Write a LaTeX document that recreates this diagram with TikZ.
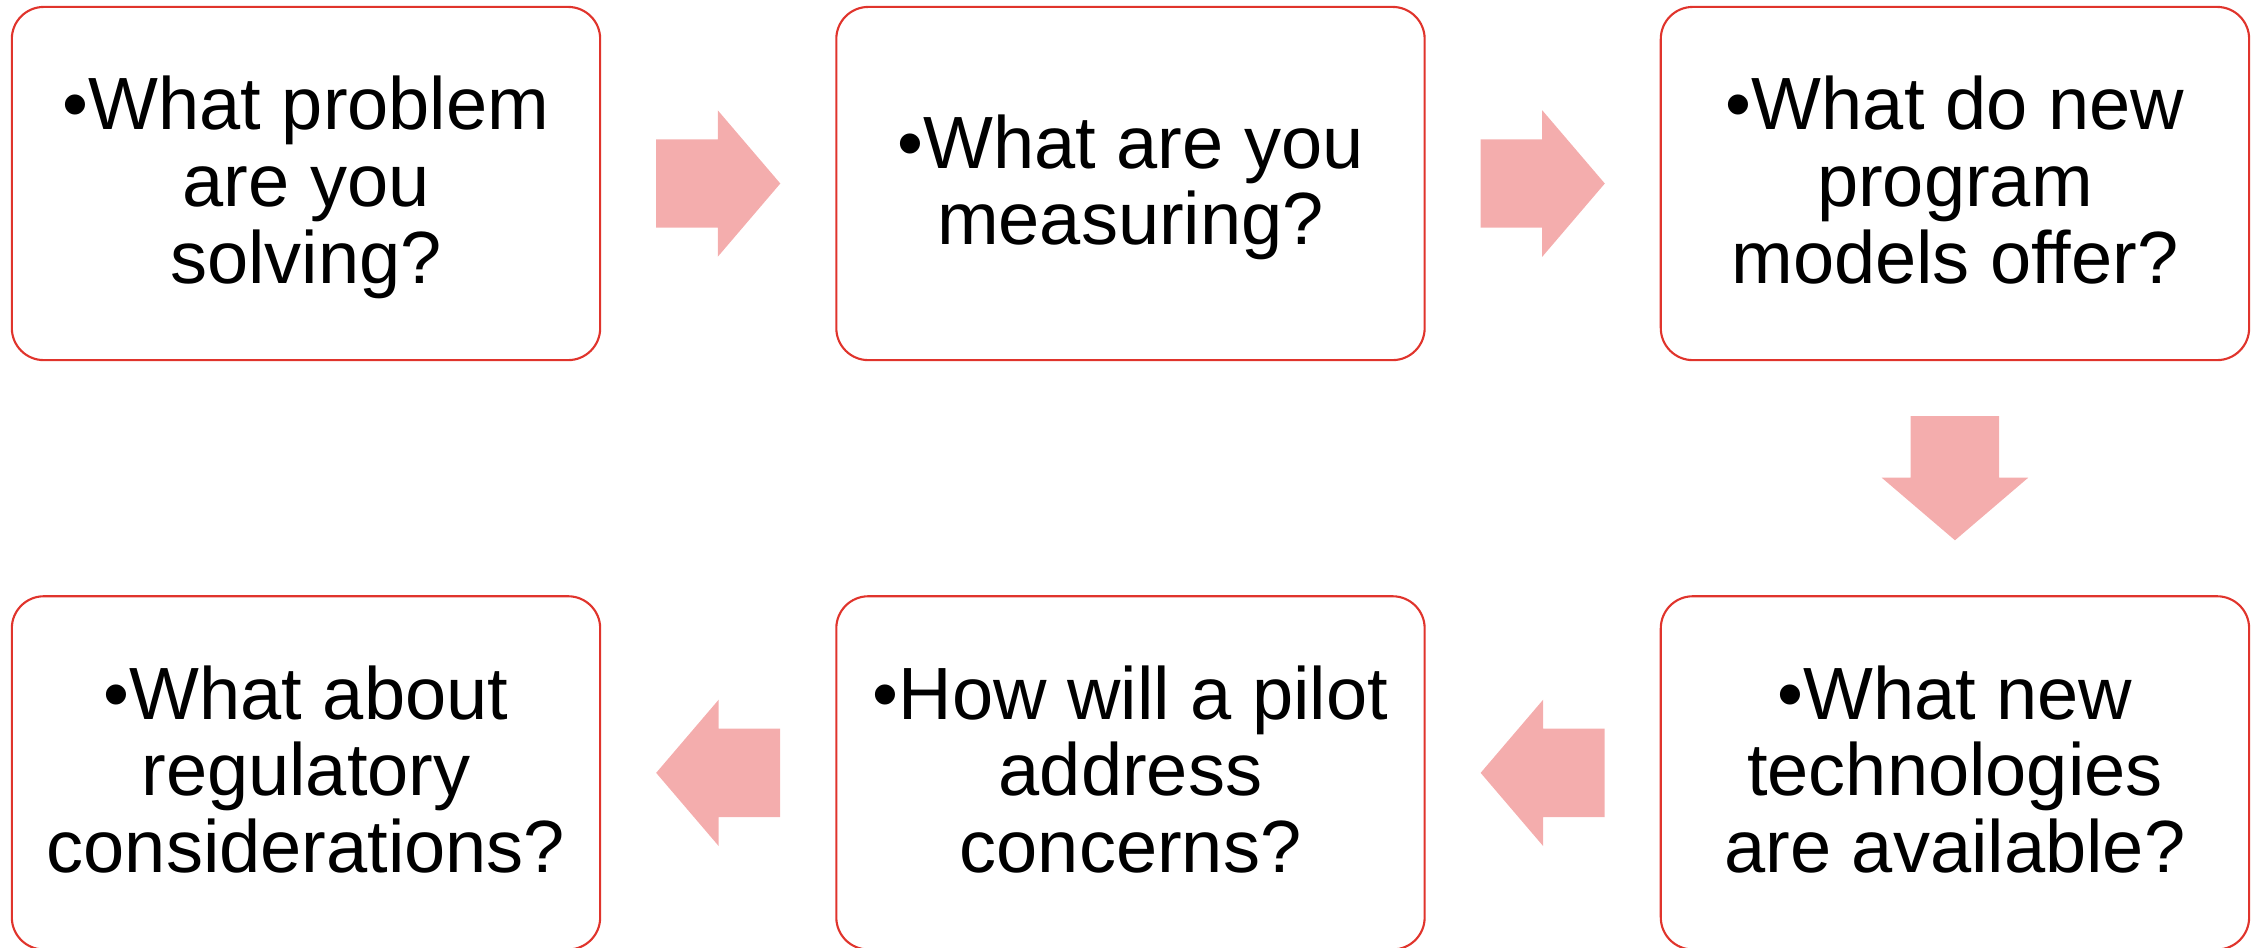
\documentclass[tikz,border=0pt]{standalone}
\usepackage{fontspec}
\setmainfont{Liberation Sans}
\usetikzlibrary{calc, positioning, shapes.arrows}
\definecolor{stepred}{HTML}{E0342C}
\definecolor{flowpink}{HTML}{F4ADAD}
% struts for the first and last line of a box
\newcommand\qtop{\rule{0pt}{0.66cm}}
\newcommand\qbot{\rule[-0.20cm]{0pt}{0pt}}
\tikzstyle{question}=[draw=stepred, line width=0.6pt, rounded corners=0.32cm,
  minimum width=5.88cm, minimum height=3.53cm, inner sep=0pt, outer sep=0pt,
  align=center, font=\fontsize{21.05}{21.8}\selectfont]
\tikzstyle{flow}=[single arrow, fill=flowpink, draw=none, anchor=tail,
  inner xsep=0pt, inner ysep=0.435cm, outer sep=0pt, minimum height=1.24cm,
  single arrow head extend=0.29cm, single arrow tip angle=99]

\begin{document}
\begin{tikzpicture}[x=0.01cm, y=-0.01cm]
  \useasboundingbox (0,0) rectangle (2257,947);
  % top row, left to right
  \node[question] (q1) at (306,183.5) {\qtop•What problem\\are you\\solving?\qbot};
  \node[question] (q2) [right=2.36cm of q1] {\qtop•What are you\\measuring?\qbot};
  \node[question] (q3) [right=2.36cm of q2] {\qtop•What do new\\program\\models offer?\qbot};
  % bottom row, right to left
  \node[question] (q4) [below=2.36cm of q3] {\qtop•What new\\technologies\\are available?\qbot};
  \node[question] (q5) [left=2.36cm of q4] {\qtop•How will a pilot\\address\\concerns?\qbot};
  \node[question] (q6) [left=2.36cm of q5] {\qtop•What about\\regulatory\\considerations?\qbot};
  % block arrows between the boxes
  \node[flow] (a12) at ($(q1.east)!.5!(q2.west)+(-62,0)$) {};
  \node[flow] (a23) at ($(q2.east)!.5!(q3.west)+(-62,0)$) {};
  \node[flow, rotate=-90] (a34) at ($(q3.south)!.5!(q4.north)+(0,-62)$) {};
  \node[flow, rotate=180] (a45) at ($(q4.west)!.5!(q5.east)+(62,0)$) {};
  \node[flow, rotate=180] (a56) at ($(q5.west)!.5!(q6.east)+(62,0)$) {};
\end{tikzpicture}
\end{document}
